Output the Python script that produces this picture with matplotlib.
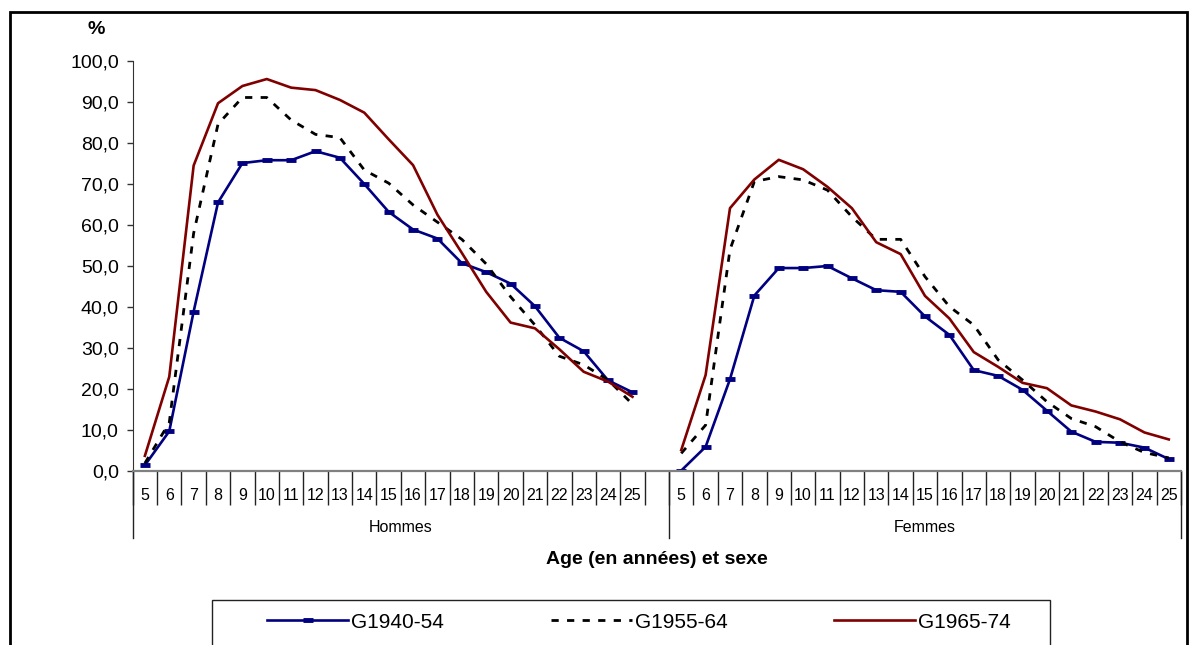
import matplotlib
matplotlib.use('Agg')
import matplotlib.pyplot as plt
from matplotlib.patches import Rectangle
import numpy as np

plt.rcParams['font.family'] = ['Liberation Sans', 'DejaVu Sans']

ages = [str(a) for a in range(5, 26)]
groups = ["Hommes", "Femmes"]
series_names = ["G1940-54", "G1955-64", "G1965-74"]

# values (%), ages 5..25
hommes_g1940 = [1.4, 9.7, 38.9, 65.5, 75.1, 75.8, 75.8, 78.0, 76.4, 70.0, 63.2,
                58.9, 56.7, 50.7, 48.5, 45.7, 40.2, 32.5, 29.2, 22.1, 19.2]
hommes_g1955 = [1.9, 11.8, 58.0, 84.6, 91.1, 91.1, 85.6, 82.1, 81.3, 73.4, 70.2,
                64.9, 60.7, 56.5, 50.5, 42.5, 35.6, 28.0, 25.9, 22.2, 16.3]
hommes_g1965 = [3.7, 23.0, 74.5, 89.7, 93.9, 95.6, 93.5, 92.9, 90.5, 87.4, 80.9,
                74.6, 62.5, 53.2, 43.7, 36.2, 34.8, 29.7, 24.2, 21.8, 18.1]
femmes_g1940 = [0.1, 5.9, 22.4, 42.8, 49.5, 49.5, 50.0, 47.0, 44.1, 43.7, 37.7,
                33.2, 24.6, 23.2, 19.8, 14.7, 9.6, 7.1, 6.9, 5.7, 2.9]
femmes_g1955 = [4.3, 11.2, 54.0, 70.6, 71.8, 71.0, 68.5, 62.0, 56.5, 56.5, 47.4,
                40.1, 35.6, 27.1, 22.2, 16.9, 12.8, 10.8, 7.1, 4.5, 3.2]
femmes_g1965 = [5.1, 23.4, 64.1, 71.1, 75.9, 73.6, 69.3, 64.1, 55.8, 52.9, 42.7,
                37.2, 29.0, 25.4, 21.5, 20.2, 16.0, 14.5, 12.6, 9.4, 7.7]

yticks = list(range(0, 101, 10))

# category layout: Hommes 5..25, one empty slot, Femmes 5..25
n = len(ages)
x_h = np.arange(n)
x_f = np.arange(n) + n + 1
ncat = 2 * n + 1
labels = ages + [""] + ages

fig = plt.figure(figsize=(11.9, 6.45), dpi=100)
ax = fig.add_axes([132.7 / 1190, 1 - 471 / 645, (1181 - 132.7) / 1190, 410 / 645])

styles = [dict(color='#000080', lw=1.9, marker='_', ms=7, mew=3.5),
          dict(color='black', lw=2.0, ls=(0, (2.6, 3.0))),
          dict(color='#800000', lw=1.9)]

h_data = [hommes_g1940, hommes_g1955, hommes_g1965]
f_data = [femmes_g1940, femmes_g1955, femmes_g1965]
handles = []
for name, hd, fd, st in zip(series_names, h_data, f_data, styles):
    ln, = ax.plot(x_h, hd, label=name, **st)
    ax.plot(x_f, fd, **st)
    handles.append(ln)

ax.set_xlim(-0.5, ncat - 0.5)
ax.set_ylim(0, 100)

for s in ['top', 'right']:
    ax.spines[s].set_visible(False)
ax.spines['left'].set_color('#333333')
ax.spines['bottom'].set_color('#808080')
ax.spines['bottom'].set_linewidth(1.6)

ax.set_yticks(yticks)
ax.set_yticklabels([f"{v:.1f}".replace('.', ',') for v in yticks])
ax.tick_params(axis='y', direction='out', length=4, width=1, color='#333333',
               labelsize=14, pad=6)

ax.set_xticks(np.arange(ncat))
ax.set_xticklabels(labels)
ax.tick_params(axis='x', which='major', length=0, labelsize=11.5, pad=12)
ax.set_xticks(np.arange(ncat + 1) - 0.5, minor=True)
ax.tick_params(axis='x', which='minor', direction='out', length=24.5, width=1,
               color='#222222')

# group separators and labels
trans = ax.get_xaxis_transform()
for xb in [-0.5, n + 0.5, ncat - 0.5]:
    ax.plot([xb, xb], [0, -67 / 410], color='#222222', lw=1, transform=trans,
            clip_on=False)
ax.text((-0.5 + n + 0.5) / 2, -56 / 410, groups[0], transform=trans,
        ha='center', va='center', fontsize=11.5)
ax.text((n + 0.5 + ncat - 0.5) / 2, -56 / 410, groups[1], transform=trans,
        ha='center', va='center', fontsize=11.5)

ax.text(0.5, -89 / 410, "Age (en années) et sexe", transform=ax.transAxes,
        ha='center', va='center', fontsize=14, fontweight='bold')
fig.text(96 / 1190, 1 - 30 / 645, "%", ha='center', va='center',
         fontsize=14, fontweight='bold')

# outer chart border and legend box
fig.patches.append(Rectangle((10 / 1190, -0.05), 1177 / 1190, 1.05 - 12 / 645,
                             transform=fig.transFigure, fill=False,
                             edgecolor='black', lw=2))
fig.patches.append(Rectangle((212 / 1190, -0.02), 838 / 1190, 0.02 + 45 / 645,
                             transform=fig.transFigure, fill=False,
                             edgecolor='#222222', lw=1))

fig.legend(handles=handles, loc='center left',
           bbox_to_anchor=(267 / 1190, 1 - 622 / 645), ncol=3, frameon=False,
           fontsize=15, handlelength=3.9, handletextpad=0.15,
           columnspacing=5.1, borderpad=0, borderaxespad=0)

fig.savefig('out.png', dpi=100)
